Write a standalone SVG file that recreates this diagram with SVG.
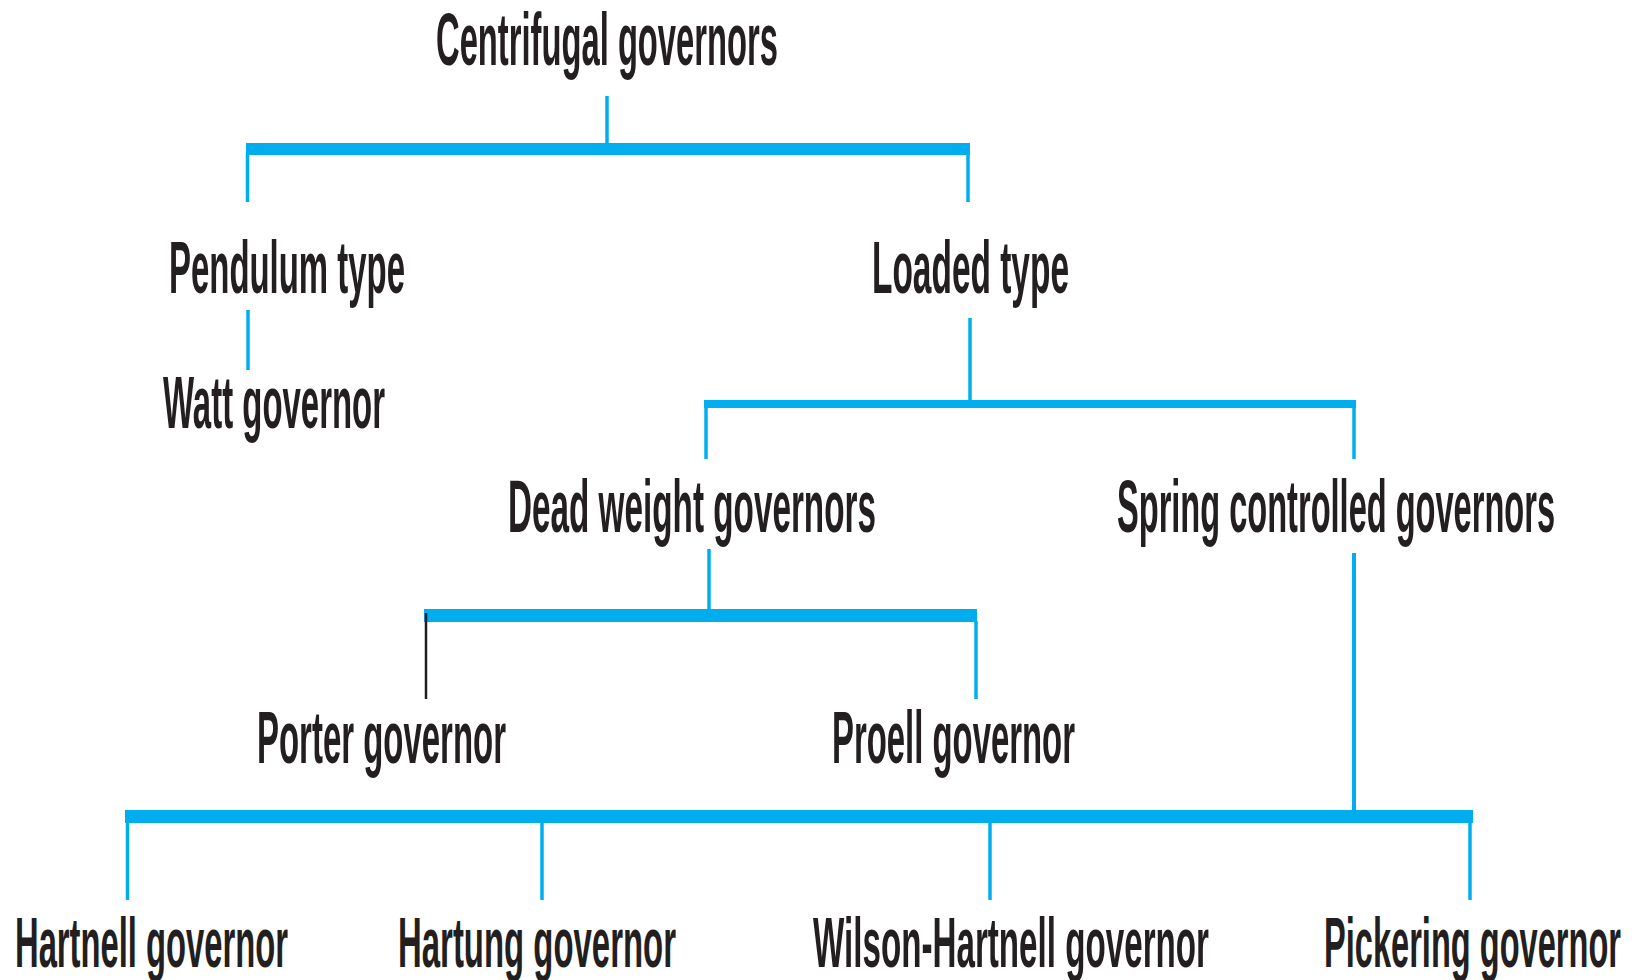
<svg xmlns="http://www.w3.org/2000/svg" width="1639" height="980" viewBox="0 0 1639 980">
<style>
.t{font-family:"Liberation Sans",Arial,sans-serif;font-weight:bold;font-size:74px;fill:#231F20}
.b{font-size:70px}
.c{stroke:#00AEEF;stroke-width:3.5;fill:none}
.bar{fill:#00AEEF}
</style>
<rect width="1639" height="980" fill="#ffffff"/>
<g id="connectors">
<line class="c" x1="607" y1="96" x2="607" y2="144"/>
<rect class="bar" x="246" y="143" width="724" height="12"/>
<line class="c" x1="247.5" y1="154" x2="247.5" y2="202"/>
<line class="c" x1="968" y1="154" x2="968" y2="202"/>
<line class="c" x1="248" y1="310" x2="248" y2="370"/>
<line class="c" x1="970" y1="318" x2="970" y2="401"/>
<rect class="bar" x="704" y="400" width="652" height="8"/>
<line class="c" x1="706" y1="407" x2="706" y2="459"/>
<line class="c" x1="1354" y1="407" x2="1354" y2="459"/>
<line class="c" x1="709" y1="549" x2="709" y2="610"/>
<rect class="bar" x="424" y="609" width="553" height="13"/>
<line x1="426" y1="613" x2="426" y2="699" stroke="#231F20" stroke-width="2.5"/>
<line class="c" x1="976" y1="621" x2="976" y2="699"/>
<line class="c" x1="1354" y1="553" x2="1354" y2="811" style="stroke-width:4"/>
<rect class="bar" x="125" y="810" width="1348" height="13"/>
<line class="c" x1="127.5" y1="822" x2="127.5" y2="900"/>
<line class="c" x1="542" y1="822" x2="542" y2="900"/>
<line class="c" x1="990" y1="822" x2="990" y2="900"/>
<line class="c" x1="1470" y1="822" x2="1470" y2="900"/>
</g>
<g id="n-centrifugal"><text class="t" transform="translate(436,65) scale(0.4424,1)" textLength="773" lengthAdjust="spacingAndGlyphs">Centrifugal governors</text></g>
<g id="n-pendulum"><text class="t" transform="translate(169,293) scale(0.445,1)" textLength="530.3" lengthAdjust="spacingAndGlyphs">Pendulum type</text></g>
<g id="n-loaded"><text class="t" transform="translate(872,293) scale(0.452,1)" textLength="435.8" lengthAdjust="spacingAndGlyphs">Loaded type</text></g>
<g id="n-watt"><text class="t" transform="translate(163,428) scale(0.4426,1)" textLength="501.6" lengthAdjust="spacingAndGlyphs">Watt governor</text></g>
<g id="n-deadweight"><text class="t" transform="translate(508,532) scale(0.4497,1)" textLength="818.3" lengthAdjust="spacingAndGlyphs">Dead weight governors</text></g>
<g id="n-spring"><text class="t" transform="translate(1117,532) scale(0.4402,1)" textLength="995" lengthAdjust="spacingAndGlyphs">Spring controlled governors</text></g>
<g id="n-porter"><text class="t" transform="translate(257,763) scale(0.4453,1)" textLength="559.2" lengthAdjust="spacingAndGlyphs">Porter governor</text></g>
<g id="n-proell"><text class="t" transform="translate(832,763) scale(0.4443,1)" textLength="546.9" lengthAdjust="spacingAndGlyphs">Proell governor</text></g>
<g id="n-hartnell"><text class="t b" transform="translate(15,967) scale(0.4679,1)" textLength="583.5" lengthAdjust="spacingAndGlyphs">Hartnell governor</text></g>
<g id="n-hartung"><text class="t b" transform="translate(398,967) scale(0.4703,1)" textLength="591.1" lengthAdjust="spacingAndGlyphs">Hartung governor</text></g>
<g id="n-wilson"><text class="t b" transform="translate(813,967) scale(0.4736,1)" textLength="836.1" lengthAdjust="spacingAndGlyphs">Wilson-Hartnell governor</text></g>
<g id="n-pickering"><text class="t b" transform="translate(1324,967) scale(0.4655,1)" textLength="638" lengthAdjust="spacingAndGlyphs">Pickering governor</text></g>
</svg>
